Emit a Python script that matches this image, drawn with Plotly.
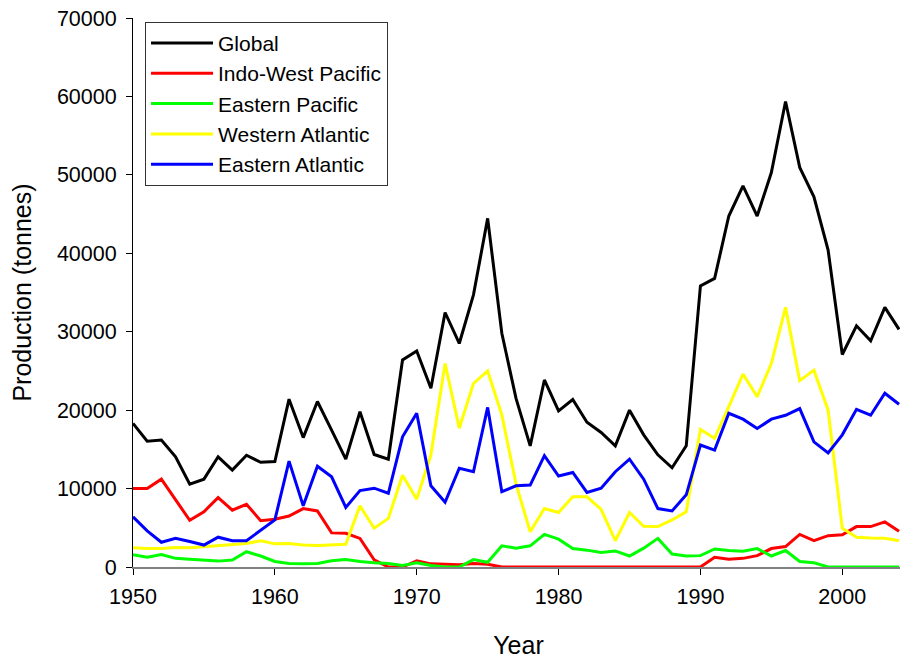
import plotly.graph_objects as go

years = list(range(1950, 2005))

global_prod = [18300, 16050, 16200, 14050, 10550, 11200, 14050, 12350, 14250, 13350,
               13450, 21400, 16500, 21100, 17450, 13750, 19800, 14350, 13750, 26400,
               27550, 22800, 32450, 28500, 34700, 44450, 29800, 21500, 15450, 23850,
               19900, 21350, 18450, 17150, 15450, 20000, 16850, 14300, 12650, 15450,
               35850, 36800, 44750, 48600, 44750, 50300, 59350, 50950, 47200, 40400,
               27100, 30750, 28850, 33100, 30300]

indo_west_pacific = [10000, 10000, 11200, 8650, 5950, 7050, 8850, 7250, 8000, 5900,
                     6100, 6500, 7450, 7150, 4350, 4300, 3650, 900, 0, 0,
                     800, 400, 350, 300, 450, 350, 0, 0, 0, 0,
                     0, 0, 0, 0, 0, 0, 0, 0, 0, 0,
                     0, 1250, 1000, 1100, 1450, 2350, 2600, 4150, 3350, 4000,
                     4100, 5150, 5150, 5750, 4550]

eastern_pacific = [1550, 1250, 1600, 1100, 1000, 900, 750, 900, 1950, 1400,
                   700, 450, 400, 450, 800, 950, 700, 550, 450, 200,
                   550, 200, 0, 0, 950, 600, 2700, 2400, 2700, 4150,
                   3550, 2350, 2150, 1850, 2050, 1400, 2400, 3650, 1650, 1400,
                   1450, 2300, 2100, 2000, 2350, 1400, 2100, 700, 550, 0,
                   0, 0, 0, 0, 0]

western_atlantic = [2450, 2350, 2350, 2500, 2450, 2600, 2750, 2850, 3000, 3350,
                    2950, 3000, 2800, 2750, 2800, 2900, 7800, 4950, 6200, 11700,
                    8650, 14300, 25950, 17700, 23400, 25000, 19400, 10600, 4500, 7450,
                    6950, 8950, 8950, 7350, 3350, 6950, 5200, 5150, 6000, 7050,
                    17550, 16400, 20450, 24600, 21700, 25950, 33100, 23750, 25100, 20000,
                    4950, 3800, 3700, 3650, 3350]

eastern_atlantic = [6400, 4600, 3150, 3650, 3250, 2800, 3800, 3350, 3350, 4700,
                    6000, 13500, 7800, 12850, 11500, 7600, 9750, 10050, 9400, 16600,
                    19600, 10350, 8250, 12600, 12150, 20350, 9600, 10350, 10450, 14200,
                    11600, 12050, 9500, 10050, 12150, 13750, 11200, 7450, 7150, 9200,
                    15550, 14900, 19600, 18850, 17650, 18850, 19350, 20200, 15950, 14550,
                    16850, 20100, 19350, 22150, 20750]

series_names = ["Global", "Indo-West Pacific", "Eastern Pacific", "Western Atlantic", "Eastern Atlantic"]
series_values = [global_prod, indo_west_pacific, eastern_pacific, western_atlantic, eastern_atlantic]
series_colors = ["#000000", "#FF0000", "#00FF00", "#FFFF00", "#0000FF"]

x_ticks = [1950, 1960, 1970, 1980, 1990, 2000]
y_ticks = [0, 10000, 20000, 30000, 40000, 50000, 60000, 70000]

fig = go.Figure()
for i in range(5):
    fig.add_trace(go.Scatter(
        x=years, y=series_values[i], mode="lines", name=series_names[i],
        line=dict(color=series_colors[i], width=3),
    ))

font_family = "Liberation Sans, Arial, sans-serif"

# page body has an 8px default margin, so the figure is sized 900x651
fig.update_layout(
    width=900, height=651,
    margin=dict(l=125, r=4, t=10, b=92),
    paper_bgcolor="white", plot_bgcolor="white",
    font=dict(family=font_family, color="black", size=21),
    showlegend=True,
    legend=dict(
        x=0.0156, y=0.993, xanchor="left", yanchor="top",
        bordercolor="#333333", borderwidth=1, bgcolor="white",
        font=dict(size=21, family=font_family),
        tracegroupgap=0, itemwidth=62,
    ),
    xaxis=dict(
        range=[1950, 2004.35], tickvals=x_ticks, ticks="outside", ticklen=6,
        tickcolor="black", showline=True, linecolor="#808080", linewidth=2,
        showgrid=False, zeroline=False, automargin=False,
        title=dict(text="Year", font=dict(size=25), standoff=31),
        tickfont=dict(size=21.5), tickformat="d", ticklabelstandoff=3,
        ticklabeloverflow="allow",
    ),
    yaxis=dict(
        range=[0, 70000], tickvals=y_ticks, ticks="outside", ticklen=6,
        tickcolor="black", showline=True, linecolor="black", linewidth=1,
        showgrid=False, zeroline=False, automargin=False,
        title=dict(text="Production (tonnes)", font=dict(size=25), standoff=18),
        tickfont=dict(size=21.5), tickformat="d", ticklabelstandoff=5,
        ticklabeloverflow="allow",
    ),
)

fig.write_html("out.html")
